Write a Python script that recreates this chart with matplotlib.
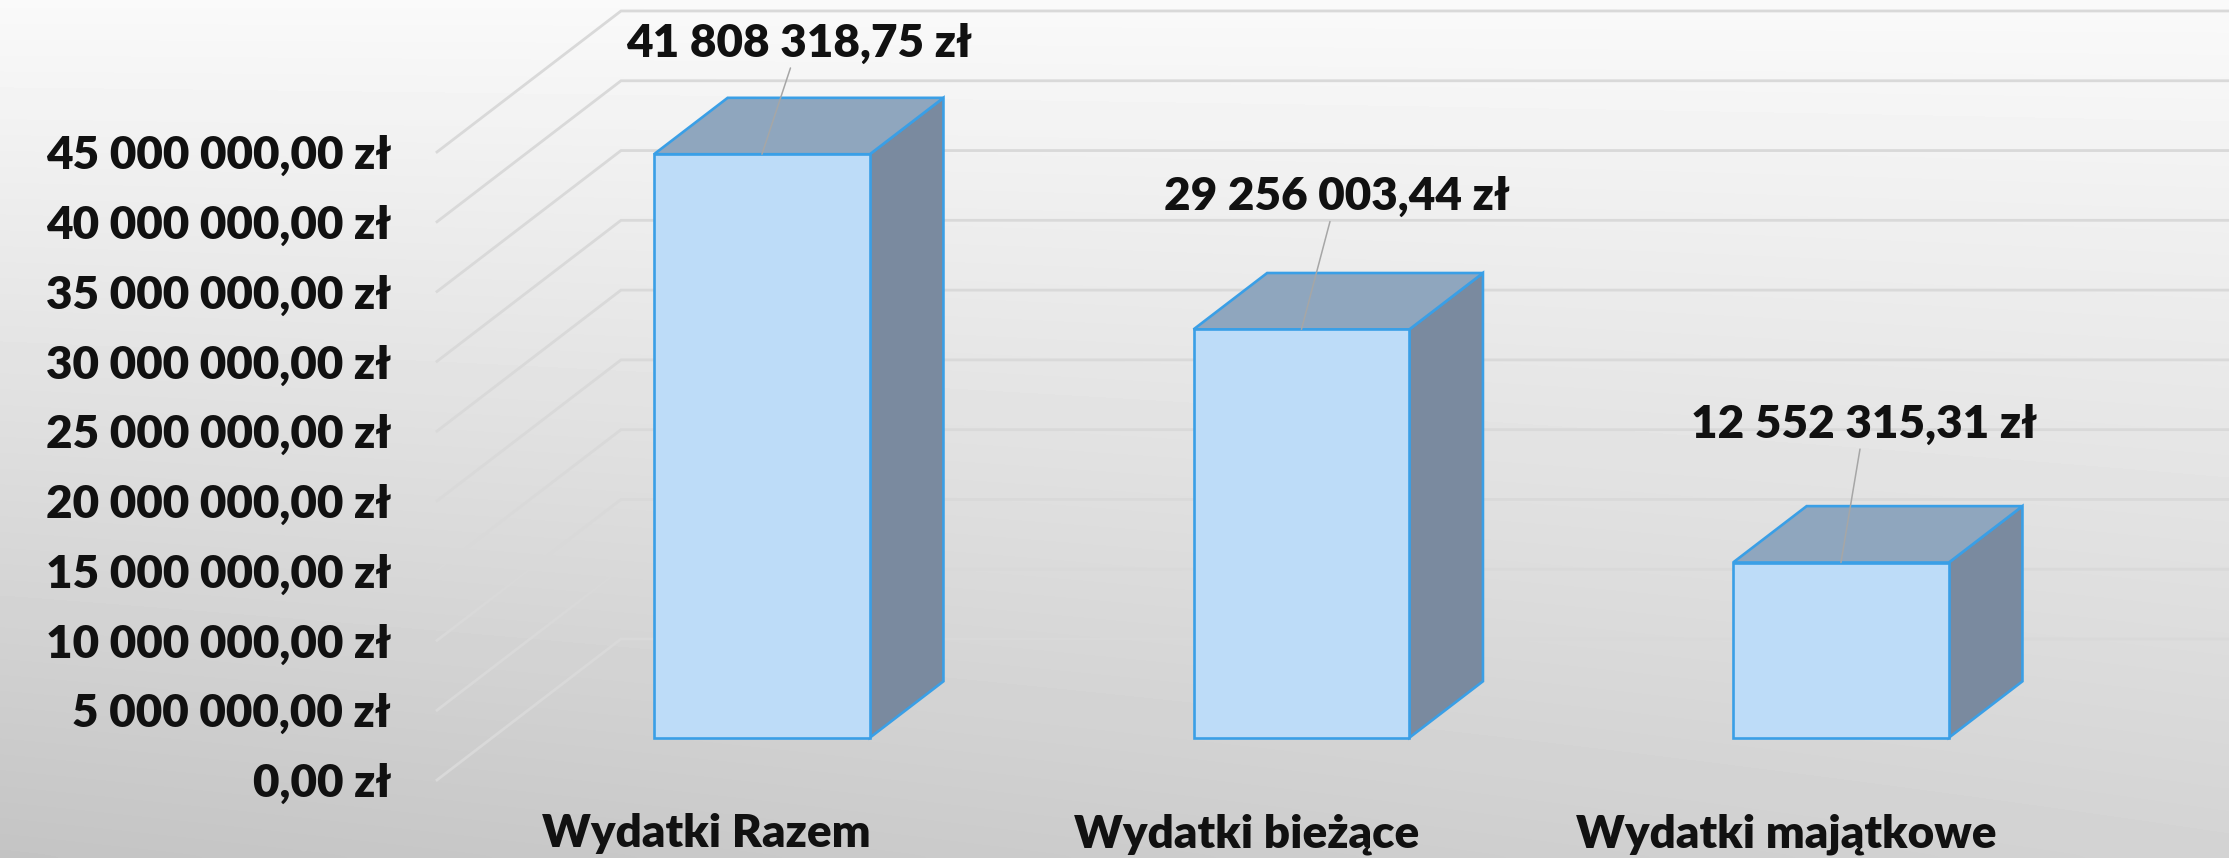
import numpy as np
import matplotlib
matplotlib.use("Agg")
import matplotlib.pyplot as plt
from matplotlib.patches import Polygon

# ---------------- data ----------------
categories = ["Wydatki Razem", "Wydatki bieżące", "Wydatki majątkowe"]
values = [41808318.75, 29256003.44, 12552315.31]
tick_values = [0, 5e6, 10e6, 15e6, 20e6, 25e6, 30e6, 35e6, 40e6, 45e6]


def pln(v):
    s = f"{v:,.2f}".replace(",", " ").replace(".", ",")
    return s + " zł"


tick_labels = [pln(v) for v in tick_values]
value_labels = [pln(v) for v in values]

# ---------------- layout / style ----------------
W, H = 2229, 858
PX_LEFT, PX_BOTTOM = 437, 78          # front-plane origin in pixels
PX_PER_CAT = 539.5
PX_PER_UNIT = 13.956 / 1e6
DX = 184 / PX_PER_CAT                 # full depth offset, category units
DY = 141 / PX_PER_UNIT                # full depth offset, value units
BAR_W = 0.40
Z0, Z1 = 0.30, 0.70
label_off_x = [0.068, 0.065, 0.043]   # label offsets from bar front-top centre
label_off_y = [7.95e6, 9.5e6, 9.9e6]

FONT = "Lato"
FS = 33
C_FRONT = "#BDDCF8"
C_TOP = "#8FA6BE"
C_SIDE = "#7A8A9F"
C_EDGE = "#3A9FE6"
C_GRID = "#D9D9D9"

fig = plt.figure(figsize=(W / 100, H / 100), dpi=100)

# background gradient
bg = fig.add_axes([0, 0, 1, 1])
yy, xx = np.mgrid[0:1:200j, 0:1:400j]
inten = 0.978 - 0.15 * yy - 0.06 * yy * (1 - xx)
bg.imshow(inten, cmap="gray", vmin=0, vmax=1, extent=[0, 1, 0, 1],
          origin="upper", aspect="auto", interpolation="bicubic")
bg.set_axis_off()

ax = fig.add_axes([PX_LEFT / W, PX_BOTTOM / H, (W - PX_LEFT) / W, (H - PX_BOTTOM) / H])
ax.set_facecolor("none")
ax.set_xlim(-0.5, -0.5 + (W - PX_LEFT) / PX_PER_CAT)
ax.set_ylim(0, (H - PX_BOTTOM) / PX_PER_UNIT)
for s in ax.spines.values():
    s.set_visible(False)


def proj(x, v, z):
    return (x + DX * z, v + DY * z)


# gridlines: diagonal on the left wall + horizontal on the back wall
n = len(categories)
for t in tick_values:
    p0 = proj(-0.5, t, 0)
    p1 = proj(-0.5, t, 1)
    p2 = proj(n, t, 1)
    ax.plot([p0[0], p1[0], p2[0]], [p0[1], p1[1], p2[1]], color=C_GRID,
            lw=2.0, solid_joinstyle="miter", clip_on=False, zorder=1)

# bars
for i, v in enumerate(values):
    xl, xr = i - BAR_W / 2, i + BAR_W / 2
    front = [proj(xl, 0, Z0), proj(xr, 0, Z0), proj(xr, v, Z0), proj(xl, v, Z0)]
    top = [proj(xl, v, Z0), proj(xr, v, Z0), proj(xr, v, Z1), proj(xl, v, Z1)]
    side = [proj(xr, 0, Z0), proj(xr, 0, Z1), proj(xr, v, Z1), proj(xr, v, Z0)]
    for pts, col in ((side, C_SIDE), (top, C_TOP), (front, C_FRONT)):
        ax.add_patch(Polygon(pts, closed=True, facecolor=col, edgecolor=C_EDGE,
                             lw=1.9, joinstyle="miter", zorder=3, clip_on=False))
    # data label with leader line
    anchor = proj(i, v, Z0)
    ax.annotate(value_labels[i], xy=anchor,
                xytext=(anchor[0] + label_off_x[i], anchor[1] + label_off_y[i]),
                ha="center", va="center", fontsize=FS, fontweight="heavy",
                family=FONT, color="#111111", zorder=5,
                arrowprops=dict(arrowstyle="-", color="#A6A6A6", lw=1.1,
                                shrinkA=1, shrinkB=0))

ax.set_yticks(tick_values)
ax.set_yticklabels(tick_labels)
ax.set_xticks(range(n))
ax.set_xticklabels(categories)
ax.tick_params(axis="y", length=0, pad=33, labelsize=FS)
ax.tick_params(axis="x", length=0, pad=24, labelsize=FS)
for lab in ax.get_yticklabels() + ax.get_xticklabels():
    lab.set_family(FONT)
    lab.set_fontweight("heavy")
    lab.set_color("#111111")

fig.savefig("out.png", dpi=100)
